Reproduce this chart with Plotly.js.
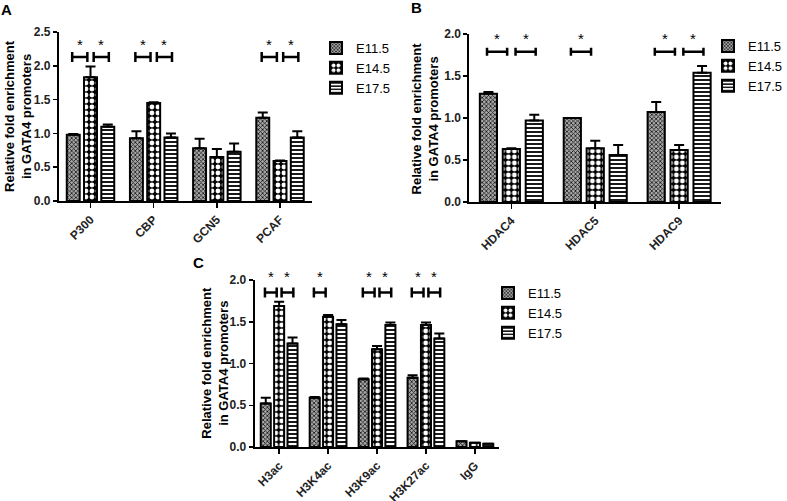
<!DOCTYPE html>
<html><head><meta charset="utf-8">
<script src="https://cdn.plot.ly/plotly-3.0.1.min.js"></script>
<style>html,body{margin:0;padding:0;background:#fff}#chart{width:787px;height:501px}</style>
</head><body><div id="chart"></div>
<script>
// ---- data ----
const seriesNames = ['E11.5', 'E14.5', 'E17.5'];

const catsA = ['P300', 'CBP', 'GCN5', 'PCAF'];
const a115 = [0.98, 0.93, 0.78, 1.23];
const a115err = [0.01, 0.10, 0.14, 0.08];
const a145 = [1.83, 1.45, 0.65, 0.59];
const a145err = [0.16, 0.01, 0.12, 0.01];
const a175 = [1.10, 0.94, 0.73, 0.94];
const a175err = [0.03, 0.06, 0.12, 0.09];
const sigLeftA = [1, 1, 0, 1];
const sigRightA = [1, 1, 0, 1];

const catsB = ['HDAC4', 'HDAC5', 'HDAC9'];
const b115 = [1.29, 1.00, 1.07];
const b115err = [0.02, 0.00, 0.12];
const b145 = [0.63, 0.64, 0.62];
const b145err = [0.01, 0.09, 0.06];
const b175 = [0.97, 0.56, 1.54];
const b175err = [0.07, 0.12, 0.08];
const sigLeftB = [1, 1, 1];
const sigRightB = [1, 0, 1];

const catsC = ['H3ac', 'H3K4ac', 'H3K9ac', 'H3K27ac', 'IgG'];
const c115 = [0.52, 0.59, 0.81, 0.83, 0.07];
const c115err = [0.07, 0.01, 0.01, 0.03, 0.00];
const c145 = [1.69, 1.56, 1.17, 1.46, 0.05];
const c145err = [0.05, 0.02, 0.04, 0.03, 0.00];
const c175 = [1.24, 1.47, 1.46, 1.30, 0.04];
const c175err = [0.07, 0.05, 0.03, 0.06, 0.00];
const sigLeftC = [1, 1, 1, 1, 0];
const sigRightC = [1, 0, 1, 1, 0];

// ---- styles ----
const W = 787, H = 501;
const FONT = 'Liberation Sans, Arial, sans-serif';
const patterns = [
  {shape: 'x', size: 3, solidity: 0.45, fgcolor: '#111', bgcolor: '#a8a8a8'},
  {shape: '.', size: 6, solidity: 0.5, fgcolor: '#fff', bgcolor: '#000'},
  {shape: '-', size: 4, solidity: 0.45, fgcolor: '#000', bgcolor: '#fff'}
];
const panels = [
  {cats: catsA, vals: [a115, a145, a175], errs: [a115err, a145err, a175err], sl: sigLeftA, sr: sigRightA,
   xa: 'x', ya: 'y', leg: 'legend', px: [59, 312], py: [32, 201], ymax: 2.5, brY: 2.13, stY: 2.34, tick: 5},
  {cats: catsB, vals: [b115, b145, b175], errs: [b115err, b145err, b175err], sl: sigLeftB, sr: sigRightB,
   xa: 'x2', ya: 'y2', leg: 'legend2', px: [470, 722], py: [34, 202], ymax: 2.0, brY: 1.79, stY: 1.97, tick: 4},
  {cats: catsC, vals: [c115, c145, c175], errs: [c115err, c145err, c175err], sl: sigLeftC, sr: sigRightC,
   xa: 'x3', ya: 'y3', leg: 'legend3', px: [255, 500], py: [280, 447], ymax: 2.0, brY: 1.85, stY: 2.07, tick: 5}
];

const traces = [];
const shapes = [];
const annotations = [];
const layout = {
  width: W, height: H, margin: {l: 0, r: 0, t: 0, b: 0},
  paper_bgcolor: '#fff', plot_bgcolor: 'rgba(0,0,0,0)',
  barmode: 'group', bargap: 0.18, bargroupgap: 0.25,
  font: {family: FONT, color: '#000'},
  shapes: shapes, annotations: annotations
};

const legPos = [[316, 33], [709, 31], [488, 278]];

panels.forEach((p, pi) => {
  const xs = p.cats.map((c, i) => i);
  for (let s = 0; s < 3; s++) {
    traces.push({
      type: 'bar', x: xs, y: p.vals[s], name: seriesNames[s],
      xaxis: p.xa, yaxis: p.ya, legend: p.leg,
      marker: {pattern: patterns[s], color: patterns[s].bgcolor, line: {color: '#000', width: 2}},
      error_y: {type: 'data', symmetric: false, array: p.errs[s], arrayminus: p.errs[s].map(() => 0),
                color: '#000', thickness: 2, width: 5},
      hoverinfo: 'skip'
    });
  }
  const sfx = pi === 0 ? '' : String(pi + 1);
  const dom = [1 - p.py[1] / H, 1 - p.py[0] / H];
  layout['xaxis' + sfx] = {
    domain: [p.px[0] / W, p.px[1] / W], anchor: p.ya, range: [-0.5, p.cats.length - 0.5],
    tickvals: xs, ticktext: p.cats, tickangle: -45, showline: true, linewidth: 2, linecolor: '#000',
    ticks: 'outside', ticklen: 5, tickwidth: 1.5, tickcolor: '#000', showgrid: false, zeroline: false,
    automargin: false,
    tickfont: {family: FONT, size: 12, weight: 'bold', color: '#222'}, fixedrange: true
  };
  layout['yaxis' + sfx] = {
    domain: dom, anchor: p.xa, range: [0, p.ymax], dtick: 0.5,
    tickformat: '.1f', showline: true, linewidth: 2, linecolor: '#000', ticks: 'outside', ticklen: 4,
    tickwidth: 1.5, tickcolor: '#000', showgrid: false, zeroline: false, automargin: false,
    tickfont: {family: FONT, size: 12, weight: 'bold', color: '#222'}, fixedrange: true
  };
  layout[p.leg] = {
    x: legPos[pi][0] / W, y: 1 - legPos[pi][1] / H, xanchor: 'left', yanchor: 'top',
    bgcolor: 'rgba(0,0,0,0)', borderwidth: 0, tracegroupgap: 0,
    font: {family: FONT, size: 13, color: '#000'}
  };
  const toPaper = v => dom[0] + (v / p.ymax) * (dom[1] - dom[0]);
  // significance brackets
  const addBracket = (xa0, xa1) => {
    shapes.push({type: 'line', xref: p.xa, yref: p.ya, x0: xa0, x1: xa1, y0: p.brY, y1: p.brY,
                 line: {color: '#000', width: 2.5}});
    [xa0, xa1].forEach(xe => shapes.push({type: 'line', xref: p.xa, yref: p.ya, ysizemode: 'pixel',
      yanchor: p.brY, x0: xe, x1: xe, y0: -p.tick, y1: p.tick, line: {color: '#000', width: 2.5}}));
    annotations.push({xref: p.xa, yref: 'paper', x: (xa0 + xa1) / 2, y: toPaper(p.stY), yshift: -2,
      text: '*', showarrow: false, font: {family: FONT, size: 15, color: '#000'}, yanchor: 'middle'});
  };
  xs.forEach(i => {
    if (p.sl[i]) addBracket(i - 0.29, i - 0.05);
    if (p.sr[i]) addBracket(i + 0.05, i + 0.29);
  });
});

// y-axis titles and panel letters
const ytitle = 'Relative fold enrichment<br>in GATA4 promoters';
[[18, 116], [426, 118], [215, 363]].forEach(pt => annotations.push({
  xref: 'paper', yref: 'paper', x: pt[0] / W, y: 1 - pt[1] / H, text: ytitle, textangle: -90,
  showarrow: false, xanchor: 'center', yanchor: 'middle',
  font: {family: FONT, size: 13, weight: 'bold', color: '#000'}
}));
[['A', 7, 9], ['B', 417, 8], ['C', 199, 262]].forEach(l => annotations.push({
  xref: 'paper', yref: 'paper', x: l[1] / W, y: 1 - l[2] / H, text: l[0], showarrow: false,
  xanchor: 'center', yanchor: 'middle', font: {family: FONT, size: 15, weight: 'bold', color: '#000'}
}));

Plotly.newPlot('chart', traces, layout, {displayModeBar: false, staticPlot: true});
</script></body></html>
